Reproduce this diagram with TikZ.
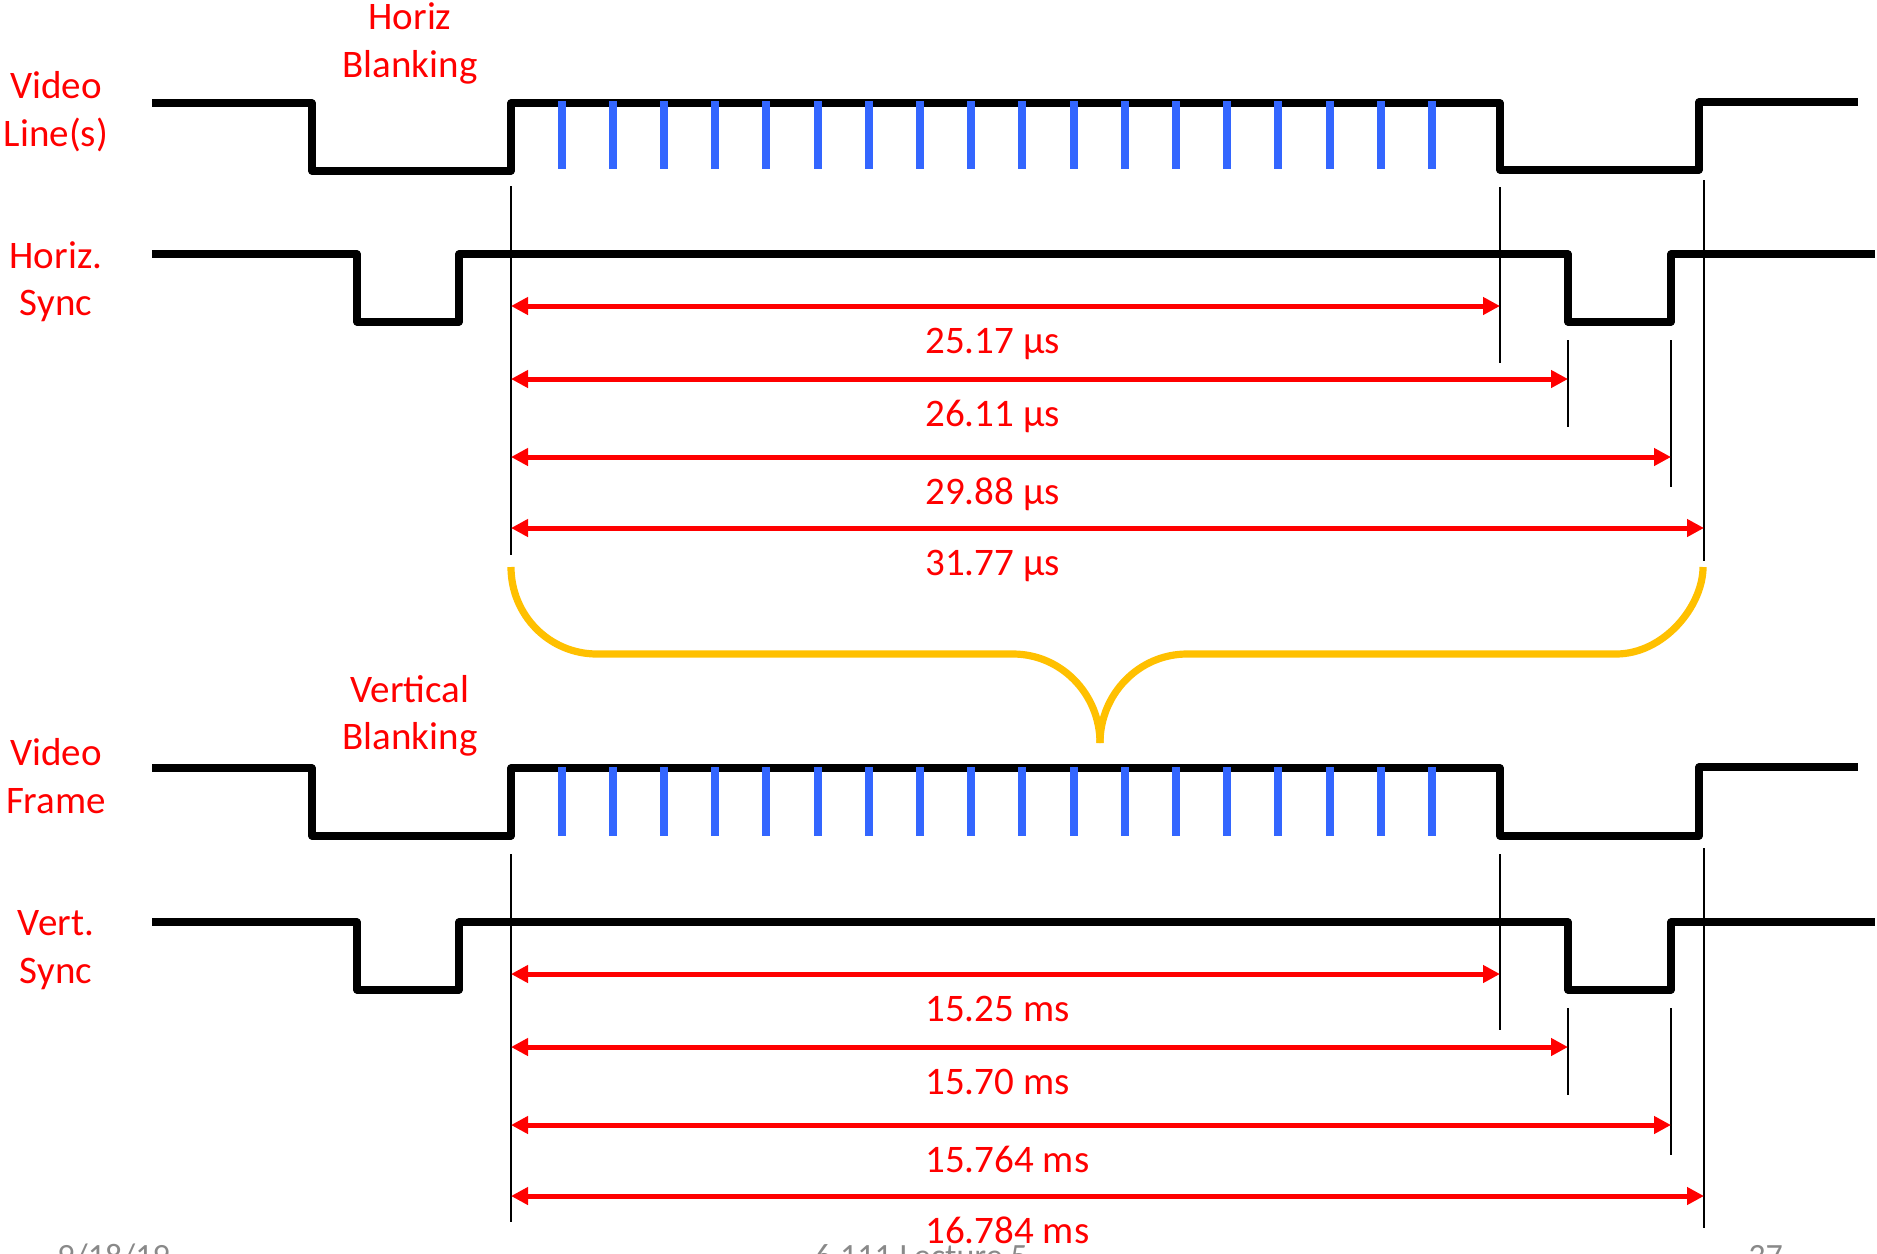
\documentclass[tikz,border=0pt]{standalone}
\usepackage{fontspec}
\setmainfont{Carlito}
\usetikzlibrary{arrows.meta}
\definecolor{sigred}{HTML}{FF0000}
\definecolor{tickblue}{HTML}{3366FF}
\definecolor{braceyellow}{HTML}{FFC000}
\definecolor{footgray}{HTML}{898989}
\begin{document}
\begin{tikzpicture}[x=0.5pt,y=-0.5pt,
  wave/.style={line width=3.6pt, line join=round, black},
  tick/.style={line width=4pt, tickblue},
  marker/.style={line width=1.1pt, black},
  dim/.style={line width=2.5pt, sigred, {Triangle[length=8.5pt,width=8.5pt]}-{Triangle[length=8.5pt,width=8.5pt]}},
  lbl/.style={text=sigred, font=\fontsize{19.5}{24}\selectfont, inner sep=0pt, anchor=base},
  dimlbl/.style={lbl, anchor=base west},
  brace/.style={line width=3.6pt, braceyellow},
  foot/.style={text=footgray, font=\fontsize{17}{20}\selectfont, inner sep=0pt, anchor=base west}]
\useasboundingbox (0,0) rectangle (1877,1253);
\clip (0,0) rectangle (1877,1253);

% ---------- upper half: one line ----------
\node[lbl] (vl1) at (56,98) {Video};
\node[lbl] (vl2) at (56,146) {Line(s)};
\node[lbl] (hb1) at (410,29) {Horiz};
\node[lbl] (hb2) at (410,77) {Blanking};
\node[lbl] (hs1) at (56,268) {Horiz.};
\node[lbl] (hs2) at (56,315) {Sync};

\draw[wave] (152,103) -- (312,103) -- (312,171) -- (511,171) -- (511,103) -- (1500,103) -- (1500,170) -- (1699,170) -- (1699,102) -- (1858,102);
\foreach \k in {0,...,17} \draw[tick] ({561.5+51.2*\k},101) -- ++(0,68);
\draw[wave] (152,254) -- (357,254) -- (357,322) -- (459,322) -- (459,254) -- (1568,254) -- (1568,322) -- (1671,322) -- (1671,254) -- (1875,254);

\coordinate (ua) at (511,186);   \coordinate (uaE) at (511,555);
\coordinate (ub) at (1500,187);  \coordinate (ubE) at (1500,363);
\coordinate (uc) at (1568,340);  \coordinate (ucE) at (1568,427);
\coordinate (ud) at (1671,340);  \coordinate (udE) at (1671,487);
\coordinate (ue) at (1704,180);  \coordinate (ueE) at (1704,561);
\draw[marker] (ua) -- (uaE);
\draw[marker] (ub) -- (ubE);
\draw[marker] (uc) -- (ucE);
\draw[marker] (ud) -- (udE);
\draw[marker] (ue) -- (ueE);

\draw[dim] (511,306) -- (1500,306);
\draw[dim] (511,379) -- (1568,379);
\draw[dim] (511,457) -- (1671,457);
\draw[dim] (511,528) -- (1704,528);
\node[dimlbl] (u1) at (925,353) {25.17 µs};
\node[dimlbl] (u2) at (925,426) {26.11 µs};
\node[dimlbl] (u3) at (925,504) {29.88 µs};
\node[dimlbl] (u4) at (925,575) {31.77 µs};

% ---------- brace ----------
\draw[brace] (511,567) .. controls (511,615) and (549,654) .. (597,654) -- (1013,654)
  .. controls (1061,654) and (1100,694) .. (1100,743);
\draw[brace] (1100,743) .. controls (1100,694) and (1139,654) .. (1187,654) -- (1616,654)
  .. controls (1664,654) and (1703,606) .. (1703,567);

% ---------- lower half: one frame ----------
\node[lbl] (vb1) at (410,702) {Vertical};
\node[lbl] (vb2) at (410,749) {Blanking};
\node[lbl] (vf1) at (56,765) {Video};
\node[lbl] (vf2) at (56,813) {Frame};
\node[lbl] (vs1) at (56,935) {Vert.};
\node[lbl] (vs2) at (56,983) {Sync};

\draw[wave] (152,768) -- (312,768) -- (312,836) -- (511,836) -- (511,768) -- (1500,768) -- (1500,836) -- (1699,836) -- (1699,767) -- (1858,767);
\foreach \k in {0,...,17} \draw[tick] ({561.5+51.2*\k},767) -- ++(0,69);
\draw[wave] (152,922) -- (357,922) -- (357,990) -- (459,990) -- (459,922) -- (1568,922) -- (1568,990) -- (1671,990) -- (1671,922) -- (1875,922);

\coordinate (la) at (511,854);   \coordinate (laE) at (511,1222);
\coordinate (lb) at (1500,854);  \coordinate (lbE) at (1500,1030);
\coordinate (lc) at (1568,1008); \coordinate (lcE) at (1568,1095);
\coordinate (ld) at (1671,1008); \coordinate (ldE) at (1671,1155);
\coordinate (le) at (1704,848);  \coordinate (leE) at (1704,1228);
\draw[marker] (la) -- (laE);
\draw[marker] (lb) -- (lbE);
\draw[marker] (lc) -- (lcE);
\draw[marker] (ld) -- (ldE);
\draw[marker] (le) -- (leE);

\draw[dim] (511,974) -- (1500,974);
\draw[dim] (511,1047) -- (1568,1047);
\draw[dim] (511,1125) -- (1671,1125);
\draw[dim] (511,1196) -- (1704,1196);
\node[dimlbl] (l1) at (925,1021) {15.25 ms};
\node[dimlbl] (l2) at (925,1094) {15.70 ms};
\node[dimlbl] (l3) at (925,1172) {15.764 ms};
\node[dimlbl] (l4) at (925,1243) {16.784 ms};

% ---------- footer (cut off) ----------
\node[foot] (fd) at (57,1267) {9/18/19};
\node[foot] (fl) at (814,1267) {6.111 Lecture 5};
\node[foot] (fn) at (1748,1267) {37};
\end{tikzpicture}
\end{document}
